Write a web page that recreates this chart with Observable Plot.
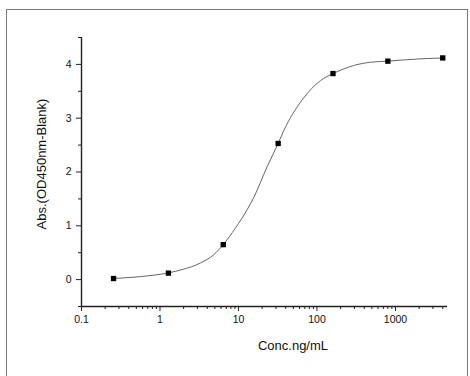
<!DOCTYPE html>
<html>
<head>
<meta charset="utf-8">
<script src="https://cdn.jsdelivr.net/npm/d3@7"></script>
<script src="https://cdn.jsdelivr.net/npm/@observablehq/plot@0.6"></script>
<style>
  html, body { margin: 0; padding: 0; background: #fff; overflow: hidden; }
  #wrap { position: relative; width: 470px; height: 376px; }
  #frame { position: absolute; left: 6px; top: 9px; width: 460px; height: 400px;
           border-left: 1.5px solid #7a7a7a; border-top: 1.5px solid #7a7a7a; border-right: 1.5px solid #7a7a7a; }
  #chart { position: absolute; left: 0; top: 0; }
</style>
</head>
<body>
<div id="wrap"><div id="frame"></div><div id="chart"></div></div>
<script>
// measured points
const conc = [0.256, 1.28, 6.4, 32, 160, 800, 4000];
const absVals = [0.02, 0.12, 0.65, 2.53, 3.83, 4.06, 4.12];

// fitted curve
const curveConc = [0.256, 0.565, 1.27, 1.91, 3.28, 4.85, 6.38, 9.16, 12.9, 15.7, 23.2, 32, 37.8, 64.7, 111, 161, 294, 481, 798, 1888, 4000];
const curveAbs  = [0.02, 0.056, 0.124, 0.186, 0.309, 0.464, 0.649, 0.96, 1.30, 1.53, 2.10, 2.53, 2.77, 3.34, 3.70, 3.83, 3.98, 4.04, 4.06, 4.10, 4.12];

const xMajor = [0.1, 1, 10, 100, 1000];
const xMinor = [0.2,0.3,0.4,0.5,0.6,0.7,0.8,0.9, 2,3,4,5,6,7,8,9, 20,30,40,50,60,70,80,90, 200,300,400,500,600,700,800,900, 2000,3000,4000];
const yMajor = [0, 1, 2, 3, 4];
const yMinor = [-0.5, 0.5, 1.5, 2.5, 3.5, 4.5];

const xLabel = "Conc.ng/mL";
const yLabel = "Abs.(OD450nm-Blank)";

const points = conc.map((c, i) => ({c, a: absVals[i]}));
const curve = curveConc.map((c, i) => ({c, a: curveAbs[i]}));

const chart = Plot.plot({
  width: 470,
  height: 376,
  marginLeft: 81,
  marginRight: 23,
  marginTop: 37,
  marginBottom: 70,
  style: {fontFamily: "'Liberation Sans', Arial, sans-serif", fontSize: "10.5px", color: "#111", background: "transparent"},
  x: {type: "log", domain: [0.1, 4600]},
  y: {domain: [-0.5, 4.5]},
  marks: [
    Plot.axisX({ticks: xMinor, tickSize: 3, tickFormat: () => "", label: null, stroke: "#222"}),
    Plot.axisX({ticks: xMajor, tickSize: 5, tickPadding: 4, tickFormat: d => String(d), label: null, stroke: "#222", fontSize: 10.5}),
    Plot.axisY({ticks: yMinor, tickSize: 3, tickFormat: () => "", label: null, stroke: "#222"}),
    Plot.axisY({ticks: yMajor, tickSize: 5, tickPadding: 5, tickFormat: d => String(d), label: null, stroke: "#222", fontSize: 10.5}),
    Plot.ruleX([0.1], {y1: -0.5, y2: 4.5, stroke: "#222", strokeWidth: 1.4}),
    Plot.ruleY([-0.5], {stroke: "#222", strokeWidth: 1.4}),
    Plot.line(curve, {x: "c", y: "a", stroke: "#666", strokeWidth: 1, curve: "monotone-x"}),
    Plot.dot(points, {x: "c", y: "a", symbol: "square", r: 3, fill: "#000", stroke: "none"})
  ]
});
document.getElementById("chart").appendChild(chart);

const svg = d3.select(chart);
// x title
svg.append("text")
  .attr("x", 293).attr("y", 347)
  .attr("text-anchor", "middle")
  .attr("dominant-baseline", "middle")
  .attr("font-size", 13)
  .attr("fill", "#111")
  .text(xLabel);
// y title
svg.append("text")
  .attr("transform", "translate(43,164) rotate(-90)")
  .attr("text-anchor", "middle")
  .attr("dominant-baseline", "middle")
  .attr("font-size", 13)
  .attr("fill", "#111")
  .text(yLabel);
</script>
</body>
</html>
